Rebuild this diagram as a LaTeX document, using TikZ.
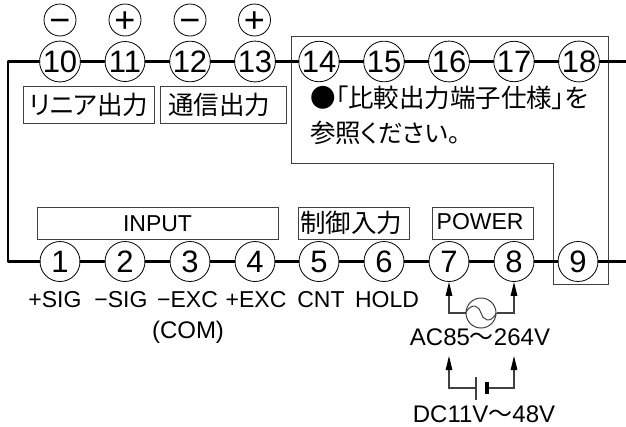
\documentclass[tikz,border=0pt]{standalone}
\usepackage{fontspec}
\setmainfont{Liberation Sans}
\newfontfamily\jpf{Noto Sans CJK JP}
\newfontfamily\jpp[RawFeature=+palt]{Noto Sans CJK JP}
\usetikzlibrary{arrows.meta}
\newcommand{\fs}[1]{\fontsize{#1}{#1}\selectfont}
\newcommand{\signtxt}[1]{\raisebox{-12pt}[10pt][10pt]{#1}}
\tikzset{
  x=1pt,y=-1pt,
  term/.style={circle,draw=black,line width=0.8pt,minimum size=40pt,inner sep=0pt,fill=white,font=\fs{31}},
  sign/.style={circle,draw=black,line width=0.8pt,minimum size=32pt,inner sep=0pt,font=\fs{36}},
  wire/.style={line width=2.2pt,line cap=round,line join=round},
  frame/.style={draw=black!75,line width=1pt,inner sep=0pt,anchor=north west},
  lab/.style={anchor=base,inner sep=0pt,font=\fs{23}},
  jp/.style={anchor=base west,inner sep=0pt,font=\jpf\fs{25.5}},
  feed/.style={draw=black!75,line width=1.2pt,-{Triangle[length=14pt,width=6.5pt,color=black]}},
  thin/.style={draw=black!75,line width=1.2pt},
}
\begin{document}
\begin{tikzpicture}
\useasboundingbox (0,0) rectangle (626,426);
% frames
\draw[draw=black!75,line width=1pt] (291,36) -- (608,36) -- (608,284) -- (553,284) -- (553,163) -- (291,163) -- cycle;
\node[frame,minimum width=131pt,minimum height=37pt] (blin) at (22.5,86) {};
\node[frame,minimum width=126pt,minimum height=37pt] (bcom) at (159.5,86) {};
\node[frame,minimum width=241.5pt,minimum height=32pt] (binp) at (36.5,206.5) {};
\node[frame,minimum width=111pt,minimum height=32pt] (bctl) at (298,207) {};
\node[frame,minimum width=101pt,minimum height=32pt] (bpow) at (432,206.5) {};
% terminals
\foreach \n/\x in {10/60,11/125,12/190,13/255,14/319,15/384,16/449,17/514,18/579}
  \node[term] (t\n) at (\x,61.5) {\n};
\foreach \n/\x in {1/60,2/125,3/190,4/255,5/319,6/384,7/449,8/514,9/578}
  \node[term] (t\n) at (\x,261.5) {\n};
% signs
\node[sign] (s10) at (60,20) {\signtxt{−}};
\node[sign] (s11) at (125,20) {\signtxt{+}};
\node[sign] (s12) at (190,20) {\signtxt{−}};
\node[sign] (s13) at (254.5,20) {\signtxt{+}};
% wires
\coordinate (rt) at (626,61.5);
\coordinate (rb) at (626,261.5);
\coordinate (lt) at (8,61.5);
\coordinate (lb) at (8,261.5);
\draw[wire] (t10) -- (lt) -- (lb) -- (t1);
\foreach \a/\b in {10/11,11/12,12/13,13/14,14/15,15/16,16/17,17/18,1/2,2/3,3/4,4/5,5/6,6/7,7/8,8/9}
  \draw[wire] (t\a) -- (t\b);
\draw[wire] (t18) -- (rt);
\draw[wire] (t9) -- (rb);
% box labels
\node[jp] (l1) at (29,114) {{\jpp リニア}出力};
\node[jp] (l2) at (168,114) {通信出力};
\node[lab] (l3) at (157.5,231) {INPUT};
\node[jp] (l4) at (300,232) {制御入力};
\node[lab,anchor=base west] (l5) at (436.5,229) {POWER};
\node[jp] (n1) at (310,107) {●{\jpp 「比較出力端子仕様」を}};
\node[jp] (n2) at (310,142) {参照{\jpp\fs{24.5}ください。}};
% pin labels
\node[lab] (p1) at (55,307) {+SIG};
\node[lab] (p2) at (121,307) {−SIG};
\node[lab] (p3) at (187.5,307) {−EXC};
\node[lab] (p4) at (256,307) {+EXC};
\node[lab,font=\fs{24}] (p5) at (188,338) {(COM)};
\node[lab] (p6) at (321,307) {CNT};
\node[lab] (p7) at (387,307) {HOLD};
% AC
\node[circle,draw=black!75,line width=1pt,minimum size=30pt,inner sep=0pt] (ac) at (481,313) {};
\draw[feed] (ac.west) -| (t7.south);
\draw[feed] (ac.east) -| (t8.south);
\draw[line width=1pt,black!75] (ac.west) .. controls (472,301) and (480,307) .. (ac.center) .. controls (482,319) and (490,325) .. (ac.east);
\node[lab,font=\fs{24}] (acl) at (480,345) {AC85{\jpf 〜}264V};
% DC
\coordinate (dl) at (449,388);
\coordinate (dr) at (514,388);
\coordinate (da) at (449,356);
\coordinate (db) at (514,356);
\coordinate (bl) at (476,388);
\coordinate (bs) at (487,388);
\draw[feed] (bl) -- (dl) -- (da);
\draw[feed] (bs) -- (dr) -- (db);
\draw[thin] (476,377) -- (476,400);
\draw[black,line width=4pt] (487,382) -- (487,394);
\node[lab,font=\fs{24}] (dcl) at (484,422) {DC11V{\jpf 〜}48V};
\end{tikzpicture}
\end{document}
